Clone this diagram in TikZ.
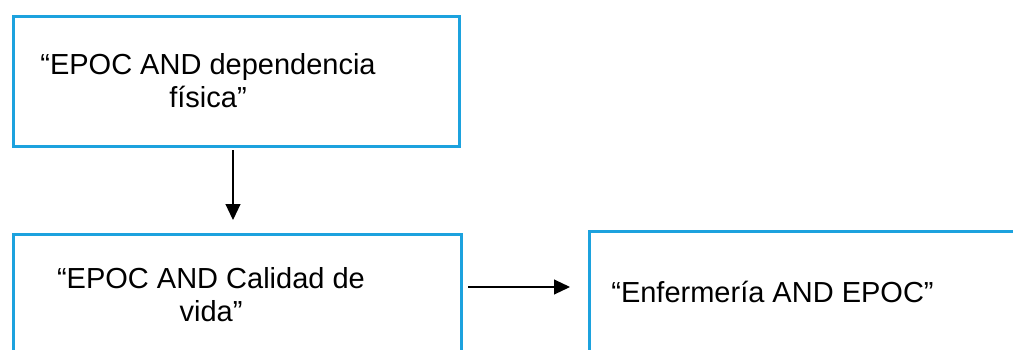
\documentclass[tikz,border=0pt]{standalone}
\usepackage{xcolor}
\usepackage{tikz}
\usepackage{fontspec}
\setmainfont{Liberation Sans}
\definecolor{boxblue}{RGB}{28, 162, 222}
\usetikzlibrary{arrows.meta, positioning, calc}

\begin{document}
\begin{tikzpicture}[
    x=1pt, y=-1pt,
    query/.style={rectangle, draw=boxblue, line width=3pt, inner sep=0pt},
    qtext/.style={align=center, inner sep=0pt, anchor=base, font=\fontsize{29}{33}\selectfont},
    flow/.style={draw=black, line width=1.1pt, -{Triangle[width=15pt,length=16pt]}}
]
    \useasboundingbox (0,0) rectangle (1013,349);
    \clip (0,0) rectangle (1013,349);
    % search boxes
    \node[query, minimum width=446pt, minimum height=130pt] (dep) at (236.5, 81.5) {};
    \node[query, minimum width=448pt, minimum height=140pt] (cal) at (237.5, 304.5) {};
    \node[query, minimum width=450pt, minimum height=140pt] (enf) at (814.5, 301.5) {};
    \node[qtext] (deptext) at (208, 107) {``EPOC AND dependencia\\ física''};
    \node[qtext] (caltext) at (211, 321) {``EPOC AND Calidad de\\ vida''};
    \node[qtext] (enftext) at (772.5, 302) {``Enfermería AND EPOC''};
    % arrows
    \coordinate (row) at (0, 287);
    \draw[flow, shorten <=2pt, shorten >=13pt] ([xshift=-3.5pt]dep.south) -- ([xshift=-3.5pt]dep.south |- cal.north);
    \draw[flow, shorten <=5pt, shorten >=18pt] (cal.east |- row) -- (enf.west |- row);
\end{tikzpicture}
\end{document}
